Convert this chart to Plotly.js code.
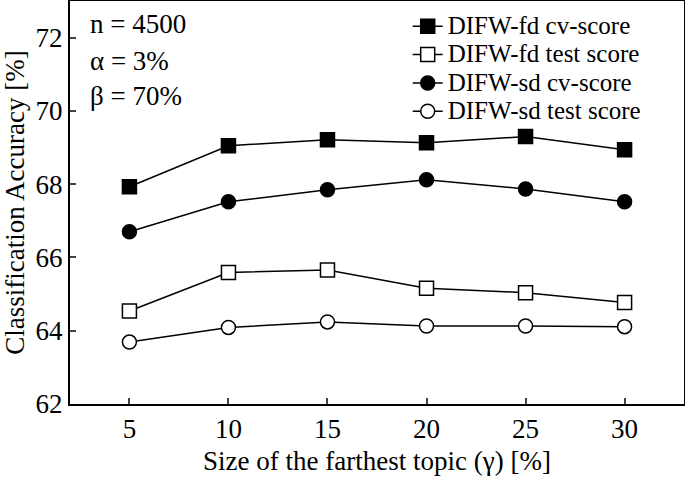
<!DOCTYPE html>
<html>
<head>
<meta charset="utf-8">
<script src="https://cdn.plot.ly/plotly-3.0.1.min.js"></script>
<style>body{margin:0;padding:0;background:#fff;}</style>
</head>
<body>
<div id="chart" style="width:685px;height:479px;"></div>
<script>
// topic size gamma [%]
var gammaSizes = [5, 10, 15, 20, 25, 30];
// accuracy values
var fdCvScore = [67.93, 69.05, 69.21, 69.13, 69.30, 68.94];
var fdTestScore = [64.54, 65.59, 65.66, 65.16, 65.04, 64.77];
var sdCvScore = [66.70, 67.52, 67.85, 68.12, 67.87, 67.52];
var sdTestScore = [63.69, 64.09, 64.24, 64.13, 64.13, 64.11];
var accuracyTicks = [62, 64, 66, 68, 70, 72];

var serif = "Liberation Serif, Times New Roman, serif";

function series(name, y, symbol, fill) {
  return {
    x: gammaSizes,
    y: y,
    // bigger text than legend.font so entries stay close together
    name: '<span style="font-size:25px">' + name + '</span>',
    type: "scatter",
    mode: "lines+markers",
    line: { color: "black", width: 1.5 },
    marker: { symbol: symbol, size: 14, color: fill, line: { color: "black", width: 1.5 } }
  };
}

var data = [
  series("DIFW-fd cv-score", fdCvScore, "square", "black"),
  series("DIFW-fd test score", fdTestScore, "square", "white"),
  series("DIFW-sd cv-score", sdCvScore, "circle", "black"),
  series("DIFW-sd test score", sdTestScore, "circle", "white")
];

var layout = {
  width: 685,
  height: 479,
  margin: { l: 70, r: 1, t: 1, b: 75 },
  paper_bgcolor: "white",
  plot_bgcolor: "white",
  font: { family: serif, color: "black", size: 27 },
  showlegend: true,
  legend: {
    x: 0.55, y: 0.985, xanchor: "left", yanchor: "top",
    bgcolor: "rgba(0,0,0,0)",
    font: { family: serif, size: 19.5 },
    tracegroupgap: 0
  },
  xaxis: {
    range: [2, 33],
    tickvals: gammaSizes,
    ticks: "inside", ticklen: 6, tickwidth: 1.5,
    showline: true, linewidth: 2, linecolor: "black", mirror: true,
    showgrid: false, zeroline: false,
    tickfont: { size: 27 },
    title: { text: "Size of the farthest topic (γ) [%]", font: { size: 27 }, standoff: 8 }
  },
  yaxis: {
    range: [62, 73],
    tickvals: accuracyTicks,
    ticks: "inside", ticklen: 6, tickwidth: 1.5,
    showline: true, linewidth: 2, linecolor: "black", mirror: true,
    showgrid: false, zeroline: false,
    tickfont: { size: 27 },
    title: { text: "Classification Accuracy [%]", font: { size: 27 }, standoff: 4 }
  },
  annotations: [
    { text: "n = 4500", xref: "paper", yref: "paper", x: 0.03, y: 0.943, xanchor: "left", yanchor: "middle", showarrow: false, font: { size: 27 } },
    { text: "α = 3%", xref: "paper", yref: "paper", x: 0.03, y: 0.851, xanchor: "left", yanchor: "middle", showarrow: false, font: { size: 27 } },
    { text: "β = 70%", xref: "paper", yref: "paper", x: 0.03, y: 0.764, xanchor: "left", yanchor: "middle", showarrow: false, font: { size: 27 } }
  ]
};

Plotly.newPlot("chart", data, layout, { displayModeBar: false });
</script>
</body>
</html>
